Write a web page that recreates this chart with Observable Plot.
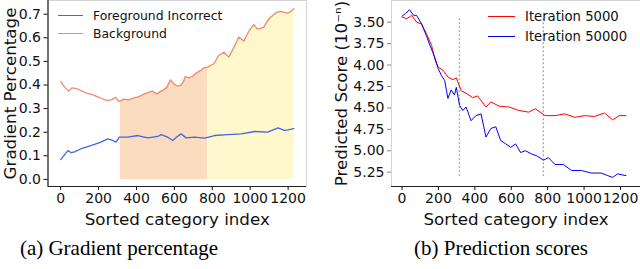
<!DOCTYPE html>
<html>
<head>
<meta charset="utf-8">
<script src="https://cdn.jsdelivr.net/npm/d3@7"></script>
<script src="https://cdn.jsdelivr.net/npm/@observablehq/plot@0.6"></script>
<style>
  html, body { margin: 0; padding: 0; background: #fff; }
  #wrap { position: relative; width: 640px; height: 269px; overflow: hidden; font-family: "DejaVu Sans", sans-serif; }
  .panel { position: absolute; top: 0; }
  .panel svg { overflow: visible; }
  g[aria-label="x-axis label"] text, g[aria-label="y-axis label"] text { font-size: 16.7px; }
  .legend { position: absolute; font-family: "DejaVu Sans", sans-serif; color: #111; }
  .legend .row { position: absolute; white-space: nowrap; display: flex; align-items: center; }
  .legend .sw { display: inline-block; height: 0; border-top: 1.3px solid; }
  .cap { position: absolute; top: 236px; font-family: "Liberation Serif", "Times New Roman", serif; font-size: 21px; color: #000; white-space: nowrap; transform: translateX(-50%); }
</style>
</head>
<body>
<div id="wrap">
  <div class="panel" id="left" style="left:0px"></div>
  <div class="panel" id="right" style="left:320px"></div>
  <div class="cap" style="left:119px">(a) Gradient percentage</div>
  <div class="cap" style="left:501px">(b) Prediction scores</div>
</div>
<script>
// ---------- data ----------
const xTicks = [0, 200, 400, 600, 800, 1000, 1200];
const gradTicks = [0.0, 0.1, 0.2, 0.3, 0.4, 0.5, 0.6, 0.7];
const scoreTicks = [3.50, 3.75, 4.00, 4.25, 4.50, 4.75, 5.00, 5.25];
const groupBounds = [315, 776, 1230];

const bgIdx = [0,20,42,60,87,110,139,165,192,210,245,270,289,306,315,333,360,385,410,438,460,483,509,525,544,560,579,597,615,632,645,658,675,694,721,740,755,776,808,834,861,887,914,940,966,993,1019,1037,1055,1072,1090,1107,1142,1160,1177,1198,1215,1230];
const bgVal = [0.415,0.392,0.374,0.388,0.384,0.375,0.365,0.360,0.351,0.345,0.334,0.338,0.348,0.331,0.333,0.340,0.337,0.345,0.350,0.360,0.368,0.374,0.362,0.372,0.380,0.390,0.422,0.405,0.395,0.398,0.410,0.436,0.430,0.436,0.454,0.462,0.473,0.476,0.490,0.525,0.539,0.518,0.560,0.603,0.586,0.628,0.656,0.638,0.640,0.645,0.670,0.687,0.709,0.712,0.709,0.704,0.712,0.723];

const fgIdx = [0,21,38,56,73,108,143,178,213,248,275,292,310,354,407,459,512,530,565,591,612,635,662,706,759,812,882,953,1023,1093,1146,1181,1200,1230];
const fgVal = [0.084,0.105,0.122,0.113,0.117,0.130,0.139,0.148,0.158,0.172,0.165,0.158,0.179,0.179,0.186,0.176,0.182,0.190,0.179,0.165,0.180,0.193,0.176,0.179,0.175,0.186,0.190,0.193,0.203,0.200,0.218,0.208,0.210,0.215];

const it5kIdx = [0,26,53,80,107,134,162,180,198,225,252,279,298,325,352,388,415,461,488,533,588,642,696,732,786,840,895,949,1003,1057,1112,1157,1193,1230];
const it5kVal = [3.44,3.46,3.42,3.50,3.52,3.635,3.77,3.93,4.025,4.06,4.14,4.17,4.15,4.30,4.33,4.38,4.36,4.49,4.43,4.48,4.49,4.53,4.55,4.51,4.59,4.59,4.57,4.61,4.59,4.60,4.56,4.64,4.59,4.59];

const it50kIdx = [0,18,41,63,80,107,134,153,180,198,216,234,252,270,288,298,316,334,352,379,406,434,461,488,515,542,570,597,624,651,678,714,741,777,804,840,886,931,985,1039,1094,1130,1157,1184,1230];
const it50kVal = [3.43,3.40,3.355,3.42,3.42,3.52,3.66,3.77,3.91,4.04,4.12,4.18,4.39,4.29,4.35,4.26,4.47,4.53,4.49,4.65,4.59,4.57,4.84,4.74,4.72,4.88,4.92,4.96,4.92,5.02,5.00,5.04,5.06,5.11,5.08,5.16,5.16,5.23,5.23,5.26,5.26,5.29,5.31,5.27,5.29];

const dividerIdx = [315, 776];
const dividerSpan = [3.46, 5.30];

// ---------- build tables ----------
const bg = bgIdx.map((i, k) => ({i, v: bgVal[k]}));
const fg = fgIdx.map((i, k) => ({i, v: fgVal[k]}));
const it5k = it5kIdx.map((i, k) => ({i, v: it5kVal[k]}));
const it50k = it50kIdx.map((i, k) => ({i, v: it50kVal[k]}));
const bgCommon = bg.filter(d => d.i >= groupBounds[0] && d.i <= groupBounds[1]);
const bgRare = bg.filter(d => d.i >= groupBounds[1] && d.i <= groupBounds[2]);

const C = {
  fg: "#4169e1", bg: "#f4876f", orange: "#fbdcbf", yellow: "#fff8cc",
  red: "#ff0000", blue: "#0000ff", frame: "#d4d4d4", axis: "#222"
};

// ---------- left panel ----------
const lx = [-67, 1297], ly = [-0.030, 0.758];
const left = Plot.plot({
  width: 320, height: 230,
  marginLeft: 47.5, marginRight: 14, marginTop: 0, marginBottom: 44,
  style: {fontFamily: "DejaVu Sans", fontSize: "14px", color: "#111", background: "transparent"},
  x: {domain: lx},
  y: {domain: ly},
  marks: [
    Plot.areaY(bgCommon, {x: "i", y: "v", fill: C.orange}),
    Plot.areaY(bgRare, {x: "i", y: "v", fill: C.yellow}),
    Plot.frame({stroke: C.frame}),
    Plot.ruleX([lx[0]], {stroke: C.axis, strokeWidth: 1.2}),
    Plot.ruleY([ly[0]], {stroke: C.axis, strokeWidth: 1.2}),
    Plot.line(bg, {x: "i", y: "v", stroke: C.bg, strokeWidth: 1.3}),
    Plot.line(fg, {x: "i", y: "v", stroke: C.fg, strokeWidth: 1.3}),
    Plot.axisX({ticks: xTicks, tickFormat: d3.format("d"), tickSize: 4, tickPadding: 3,
      label: "Sorted category index", labelAnchor: "center", labelOffset: 38, labelArrow: "none"}),
    Plot.axisY({ticks: gradTicks, tickFormat: d3.format(".1f"), tickSize: 4, tickPadding: 3,
      label: "Gradient Percentage", labelAnchor: "center", labelOffset: 44, labelArrow: "none"})
  ]
});
document.getElementById("left").appendChild(left);

// ---------- right panel ----------
const rx = [-58, 1310], ry = [3.247, 5.417];
const right = Plot.plot({
  width: 320, height: 230,
  marginLeft: 71, marginRight: 0, marginTop: 0, marginBottom: 44,
  style: {fontFamily: "DejaVu Sans", fontSize: "14px", color: "#111", background: "transparent"},
  x: {domain: rx},
  y: {domain: ry, reverse: true},
  marks: [
    Plot.frame({stroke: C.frame}),
    Plot.ruleY([ry[1]], {stroke: C.axis, strokeWidth: 1.2}),
    Plot.ruleX(dividerIdx, {y1: dividerSpan[0], y2: dividerSpan[1], stroke: "#aaa", strokeWidth: 1.4, strokeDasharray: "2,2"}),
    Plot.line(it5k, {x: "i", y: "v", stroke: C.red, strokeWidth: 1}),
    Plot.line(it50k, {x: "i", y: "v", stroke: C.blue, strokeWidth: 1}),
    Plot.axisX({ticks: xTicks, tickFormat: d3.format("d"), tickSize: 4, tickPadding: 3,
      label: "Sorted category index", labelAnchor: "center", labelOffset: 38, labelArrow: "none"}),
    Plot.axisY({ticks: scoreTicks, tickFormat: d3.format(".2f"), tickSize: 4, tickPadding: 3, stroke: "#888",
      label: "Predicted Score (10⁻ⁿ)", labelAnchor: "center", labelOffset: 56, labelArrow: "none"})
  ]
});
document.getElementById("right").appendChild(right);

// ---------- legends (HTML overlays) ----------
function legend(items, opts) {
  const box = document.createElement("div");
  box.className = "legend";
  box.style.left = opts.x + "px"; box.style.top = "0px";
  box.style.fontSize = opts.fontSize + "px";
  items.forEach((it, k) => {
    const row = document.createElement("div");
    row.className = "row";
    row.style.top = (opts.y0 + k * opts.dy - opts.fontSize * 0.6) + "px";
    row.style.height = (opts.fontSize * 1.2) + "px";
    const sw = document.createElement("span");
    sw.className = "sw";
    sw.style.width = opts.sw + "px";
    sw.style.borderTopColor = it.color;
    sw.style.marginRight = opts.gap + "px";
    const t = document.createElement("span");
    t.textContent = it.label;
    row.appendChild(sw); row.appendChild(t);
    box.appendChild(row);
  });
  document.getElementById("wrap").appendChild(box);
}
legend([{label: "Foreground Incorrect", color: C.fg}, {label: "Background", color: C.bg}],
  {x: 58, y0: 16, dy: 18, fontSize: 12.4, sw: 25, gap: 10});
legend([{label: "Iteration 5000", color: C.red}, {label: "Iteration 50000", color: C.blue}],
  {x: 488, y0: 16.7, dy: 20.3, fontSize: 13.2, sw: 27, gap: 10});
</script>
</body>
</html>
